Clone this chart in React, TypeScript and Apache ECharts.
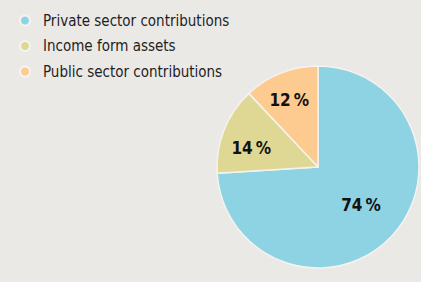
import React, { useEffect, useRef } from "react";
import * as echarts from "echarts";

const categories = ["Private sector contributions", "Income form assets", "Public sector contributions"];
const values = [74, 14, 12];
const colors = ["#8ed3e3", "#dfd895", "#fdcb8f"];
const labelOffsets = [[4, 1], [-17, 1], [-9, -17]];

const FONT = "'DejaVu Sans Condensed', 'Roboto Condensed', 'Arial Narrow', Roboto, sans-serif";

export default function App() {
  const ref = useRef<HTMLDivElement>(null);
  useEffect(() => {
    const chart = echarts.init(ref.current!, null, { renderer: "svg" });
    chart.setOption({
      animation: false,
      backgroundColor: "#ebe9e6",
      legend: {
        orient: "vertical",
        left: 14,
        top: 6.5,
        icon: "circle",
        itemWidth: 26,
        itemHeight: 10,
        itemGap: 7.5,
        selectedMode: false,
        data: categories,
        textStyle: {
          fontFamily: FONT,
          fontSize: 15,
          lineHeight: 18,
          color: "#1e1e1e",
        },
      },
      series: [
        {
          type: "pie",
          center: [318, 167],
          radius: [0, 101],
          startAngle: 90,
          clockwise: true,
          itemStyle: { borderColor: "#f5f3f0", borderWidth: 1.5 },
          emphasis: { disabled: true },
          label: {
            show: true,
            position: "inside",
            formatter: "{c}\u2009%",
            fontFamily: FONT,
            fontWeight: "bold",
            fontSize: 17,
            color: "#111",
          },
          labelLine: { show: false },
          data: categories.map((name, i) => ({
            name,
            value: values[i],
            itemStyle: { color: colors[i] },
            label: { offset: labelOffsets[i] },
          })),
        },
      ],
    });
    return () => chart.dispose();
  }, []);
  return <div ref={ref} style={{ position: "fixed", left: 0, top: 0, width: 421, height: 282 }} />;
}
